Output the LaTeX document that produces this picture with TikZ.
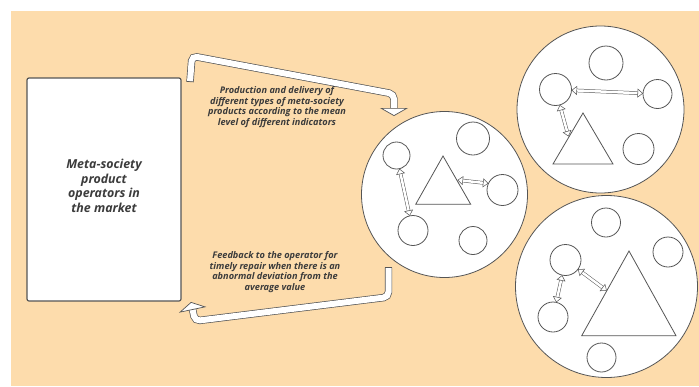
\documentclass[tikz,border=0pt]{standalone}
\usepackage{fontspec}
\setmainfont{Open Sans}
\usetikzlibrary{arrows.meta}
\definecolor{peach}{RGB}{253,220,172}
\definecolor{linegray}{RGB}{85,85,85}
\definecolor{textgray}{RGB}{60,60,60}

\begin{document}
\begin{tikzpicture}[x=1pt,y=-1pt,
  every node/.style={inner sep=0pt, outer sep=0pt},
  unit/.style={draw=linegray, fill=white, circle, line width=0.8pt, minimum size=#1},
  tri/.style={draw=linegray, fill=white, line width=0.8pt},
  lbl/.style={align=center, text=textgray, font=\bfseries\itshape\fontsize{9.2}{10.5}\selectfont},
  link/.style={draw=linegray, line width=0.5pt, double=white, double distance=2.5pt,
    {Triangle[open,fill=white,length=5.5pt,width=9pt,line width=0.5pt]}-{Triangle[open,fill=white,length=5.5pt,width=9pt,line width=0.5pt]}},
  pipe/.style={draw=linegray, line width=0.7pt, double=white, double distance=6pt, rounded corners=5pt,
    {Bar[width=7.4pt,line width=0.7pt]}-{Triangle[open,fill=white,length=8pt,width=28pt,line width=0.7pt]}}]

  \useasboundingbox (0,0) rectangle (699,386);
  \fill[peach] (11,11) rectangle (699,386);

  \node[draw=linegray, line width=1.2pt, fill=white, rounded corners=2pt,
    minimum width=154pt, minimum height=223pt] (ops) at (104,189.5) {};
  \node[align=center, text=textgray, font=\bfseries\itshape\fontsize{12.4}{14.6}\selectfont]
    (opstext) at (104,186) {Meta-society\\product\\operators in\\the market};

  % market groups
  \node[unit=166pt] (m1) at (444.5,194.5) {};
  \node[unit=167pt] (m2) at (600.5,109.5) {};
  \node[unit=182pt] (m3) at (606.5,286.5) {};

  \node[unit=27pt] (m1a) at (396.5,155.5) {};
  \node[unit=30pt] (m1b) at (413,230.5) {};
  \node[unit=33pt] (m1c) at (473,138.5) {};
  \node[unit=31pt] (m1d) at (502.5,190) {};
  \node[unit=28pt] (m1e) at (473,240.5) {};
  \draw[tri] (443,156) -- (415.7,204.3) -- (470.7,204.3) -- cycle;
  \coordinate (t1r) at (457.5,180);

  \node[unit=34pt] (m2a) at (606,63) {};
  \node[unit=32pt] (m2b) at (555.5,89.5) {};
  \node[unit=29pt] (m2c) at (657.5,94) {};
  \node[unit=31pt] (m2d) at (638.5,149) {};
  \draw[tri] (583,113) -- (553,164) -- (613,164) -- cycle;
  \coordinate (t2l) at (568.5,136.5);

  \node[unit=29pt] (m3a) at (606,222.5) {};
  \node[unit=30pt] (m3b) at (668,252) {};
  \node[unit=31pt] (m3c) at (565.5,260) {};
  \node[unit=30pt] (m3d) at (553,317) {};
  \node[unit=29pt] (m3e) at (601.5,357.5) {};
  \draw[tri] (629,251) -- (581.7,335.7) -- (676,335.7) -- cycle;
  \coordinate (t3l) at (606.8,290.7);

  \draw[link] (m1a) -- (m1b);
  \draw[link] (t1r) -- (m1d.155);
  \draw[link] (m2b) -- (m2c);
  \draw[link] (m2b) -- (t2l);
  \draw[link] (m3c) -- (m3d);
  \draw[link] (m3c) -- (t3l);

  % delivery and feedback
  \coordinate (dout) at (190,82);
  \coordinate (din) at (394,116);
  \coordinate (fout) at (388.5,267);
  \coordinate (fin) at (191,302);

  \draw[pipe] (dout) -- (192,56) -- (394,94) -- (din);
  \draw[pipe] (fout) -- (388.5,297) -- (195,321) -- (fin);

  \node[lbl] (deliv) at (277,107) {Production and delivery of\\different types of meta-society\\products according to the mean\\level of different indicators};
  \node[lbl] (feedb) at (275,272) {Feedback to the operator for\\timely repair when there is an\\abnormal deviation from the\\average value};
\end{tikzpicture}
\end{document}
